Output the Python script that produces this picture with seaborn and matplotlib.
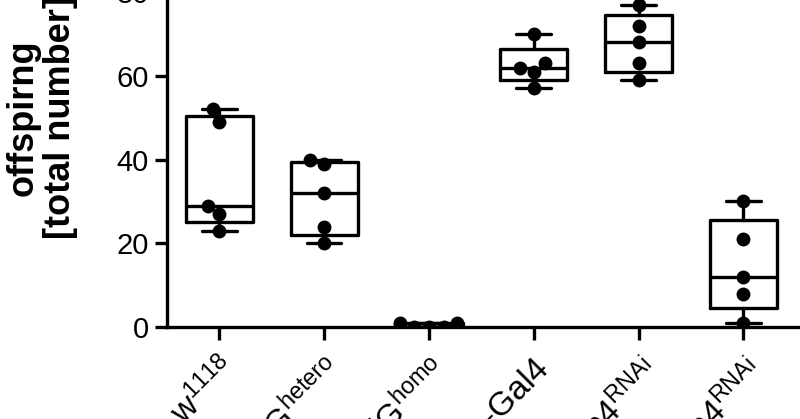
import numpy as np
import pandas as pd
import seaborn as sns
import matplotlib
matplotlib.use('Agg')
import matplotlib.pyplot as plt
from matplotlib import cbook

# data (offspring per cross)
groups = ['w1118', 'dlG_hetero', 'dlG_homo', 'da-Gal4', 'da>Hsp4_RNAi', 'tub>Hsp4_RNAi']
tick_labels = [r'w$^{\mathrm{1118}}$', r'dlG$^{\mathrm{hetero}}$', r'dlG$^{\mathrm{homo}}$',
               'da-Gal4', r'da>Hsp4$^{\mathrm{RNAi}}$', r'tub>Hsp4$^{\mathrm{RNAi}}$']
w1118 = [52, 49, 29, 27, 23]
dlg_hetero = [40, 39, 32, 24, 20]
dlg_homo = [0, 1, 0, 1, 0]
da_gal4 = [70, 63, 62, 61, 57]
da_rnai = [77, 72, 68, 63, 59]
tub_rnai = [30, 21, 12, 8, 1]
values = [w1118, dlg_hetero, dlg_homo, da_gal4, da_rnai, tub_rnai]

df = pd.DataFrame({
    'group': np.repeat(groups, [len(v) for v in values]),
    'offspring': np.concatenate(values),
})

sns.set_style('ticks', {'axes.edgecolor': 'black', 'text.color': 'black',
                        'xtick.color': 'black', 'ytick.color': 'black', 'axes.labelcolor': 'black'})
plt.rcParams['font.family'] = ['Liberation Sans', 'DejaVu Sans']
plt.rcParams['mathtext.fontset'] = 'custom'
plt.rcParams['mathtext.rm'] = 'Liberation Sans'
plt.rcParams['mathtext.it'] = 'Liberation Sans:italic'

fig = plt.figure(figsize=(8, 4.19), dpi=100)
ax = fig.add_axes([0.20875, 0.2196, 0.7925, 0.9988])

# box stats with (n+1)p quartiles, whiskers min..max
stats = []
for v in values:
    s = cbook.boxplot_stats(np.asarray(v, float), whis=(0, 100))[0]
    s['q1'], s['med'], s['q3'] = np.percentile(v, [25, 50, 75], method='weibull')
    stats.append(s)

lw = 2.4
ax.bxp(stats, positions=range(len(groups)), widths=0.64, capwidths=0.33, showfliers=False,
       boxprops=dict(color='black', linewidth=lw), medianprops=dict(color='black', linewidth=lw),
       whiskerprops=dict(color='black', linewidth=lw), capprops=dict(color='black', linewidth=lw),
       manage_ticks=False)

sns.swarmplot(data=df, x='group', y='offspring', order=groups, color='black', size=10, ax=ax, zorder=3)

ax.set_xlim(-0.5, 5.55)
ax.set_ylim(0, 100)
ax.set_yticks([0, 20, 40, 60, 80, 100])
ax.set_xticks(range(len(groups)))
ax.set_xticklabels(tick_labels, rotation=45, ha='right', va='top', rotation_mode='anchor', fontsize=24)
ax.tick_params(axis='y', labelsize=21, length=9, width=lw, pad=4)
ax.tick_params(axis='x', length=9, width=lw, pad=9)
ax.set_xlabel('')
ax.set_ylabel('offspirng\n[total number]', fontsize=26, fontweight='bold', labelpad=16, linespacing=1.1)
for sp in ['left', 'bottom']:
    ax.spines[sp].set_linewidth(lw)
sns.despine(ax=ax)

fig.savefig('out.png', dpi=100)
